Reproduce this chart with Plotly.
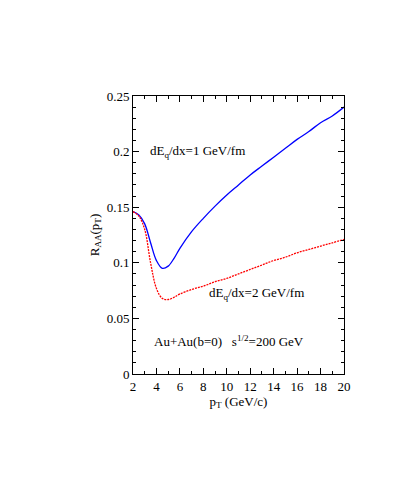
import plotly.graph_objects as go

pt = [2, 2.5, 3, 3.5, 4, 4.5, 5, 5.5, 6, 7, 8, 9, 10, 11, 12, 13, 14, 15, 16, 17, 18, 19, 20]
raa_1 = [0.146, 0.143, 0.135, 0.118, 0.102, 0.095, 0.097, 0.104, 0.113, 0.128, 0.140, 0.151,
         0.161, 0.170, 0.179, 0.187, 0.195, 0.203, 0.211, 0.218, 0.226, 0.232, 0.240]
raa_2 = [0.146, 0.142, 0.130, 0.100, 0.077, 0.068, 0.067, 0.069, 0.072, 0.076, 0.079, 0.083,
         0.086, 0.090, 0.094, 0.098, 0.102, 0.105, 0.109, 0.112, 0.115, 0.118, 0.121]

fnt = dict(family="Liberation Serif", size=13, color="black")

fig = go.Figure()
fig.add_trace(go.Scatter(x=pt, y=raa_1, mode="lines", line=dict(color="blue", width=1.3, shape="spline")))
fig.add_trace(go.Scatter(x=pt, y=raa_2, mode="lines", line=dict(color="red", width=1.3, dash="2px,1px", shape="spline")))

ax = dict(showline=True, linecolor="black", linewidth=1, mirror="allticks", ticks="inside",
          showgrid=False, zeroline=False, tickfont=fnt, ticklen=6, tickcolor="black")
fig.update_xaxes(range=[2, 20], dtick=2, title=dict(text="p<sub>T</sub> (GeV/c)", font=fnt, standoff=2),
                 minor=dict(ticks="inside", dtick=1, ticklen=3, tickcolor="black"), **ax)
fig.update_yaxes(range=[0, 0.25], dtick=0.05, title=dict(text="R<sub>AA</sub>(p<sub>T</sub>)", font=fnt, standoff=4),
                 minor=dict(ticks="inside", dtick=0.01, ticklen=3, tickcolor="black"), **ax)

for x, y, t in [(7.5, 0.2, "dE<sub>q</sub>/dx=1 GeV/fm"),
                (12.5, 0.072, "dE<sub>q</sub>/dx=2 GeV/fm"),
                (10.2, 0.03, "Au+Au(b=0)   s<sup>1/2</sup>=200 GeV")]:
    fig.add_annotation(x=x, y=y, text=t, showarrow=False, font=fnt)

fig.update_layout(width=415, height=485, margin=dict(l=125, r=79, t=88, b=119),
                  plot_bgcolor="white", paper_bgcolor="white", showlegend=False)
fig.write_html("out.html")
